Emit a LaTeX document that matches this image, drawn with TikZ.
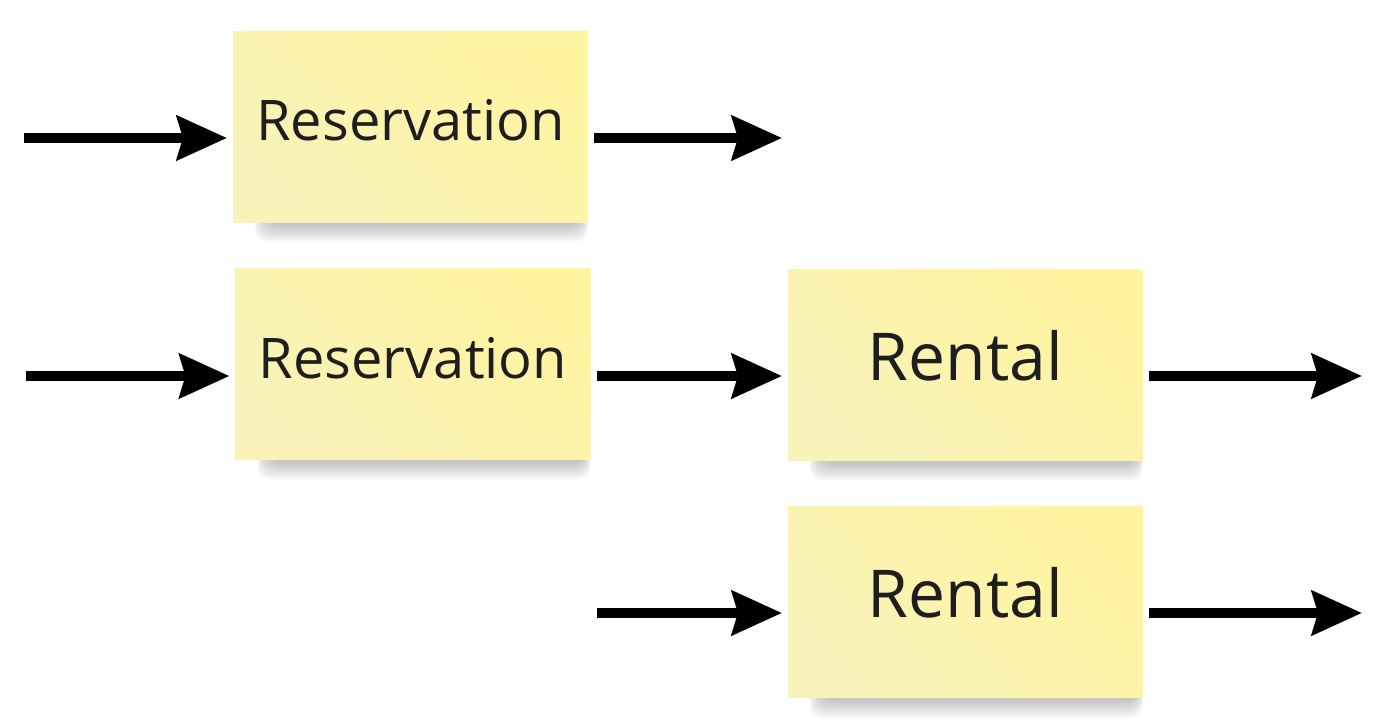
\documentclass[tikz,border=0pt]{standalone}
\usepackage{fontspec}
\setmainfont{Open Sans}
\usepackage{tikz}
\usetikzlibrary{arrows.meta,positioning,backgrounds}
\definecolor{noteTop}{RGB}{255,244,160}
\definecolor{noteBot}{RGB}{249,243,186}
\definecolor{ink}{RGB}{30,30,30}
\tikzset{
  note/.style={rectangle,minimum width=355pt,minimum height=191pt,inner sep=0pt,outer sep=6pt,
    top color=noteTop,bottom color=noteBot,shading angle=-40,text=ink},
  resv/.style={note,font=\fontsize{56}{60}\selectfont,text height=42pt,text depth=14pt},
  rent/.style={note,font=\fontsize{66}{70}\selectfont,text height=50pt,text depth=20pt},
  flow/.style={line width=10pt,-{Stealth[length=50pt,width=44pt,inset=6pt]}},
  shade/.style={fill=black,opacity=0.028,rounded corners=12pt}
}
\begin{document}
\begin{tikzpicture}[x=1pt,y=-1pt]
  \useasboundingbox (0,0) rectangle (1382,723);
  \node[resv] (N1) at (410.5,126.5) {Reservation};
  \node[resv] (N2) at (413,364) {Reservation};
  \node[rent] (N3) at (965.5,365) {Rental};
  \node[rent] (N4) at (965.5,602) {Rental};
  \begin{scope}[on background layer]
    \foreach \n in {N1,N2,N3,N4}
      \foreach \d/\l/\r in {-14/28/-6,-12/29/-7,-10/30/-8,-8/32/-8,-6/33/-9,-4/34/-10,-2/36/-10,0/38/-11,2/40/-12}
        \fill[shade] ([xshift=\l pt,yshift=30pt]\n.south west) rectangle ([xshift=\r pt,yshift=\d pt]\n.south east);
  \end{scope}
  \coordinate (S1) at (24,138);
  \coordinate (E1) at (782,138);
  \coordinate (S2) at (26,376);
  \coordinate (E2) at (1362,376);
  \coordinate (S3) at (597,613);
  \coordinate (E3) at (1362,613);
  \draw[flow] (S1) -- (S1 -| N1.west);
  \draw[flow] (S1 -| N1.east) -- (E1);
  \draw[flow] (S2) -- (S2 -| N2.west);
  \draw[flow] (S2 -| N2.east) -- (S2 -| N3.west);
  \draw[flow] (S2 -| N3.east) -- (E2);
  \draw[flow] (S3) -- (S3 -| N4.west);
  \draw[flow] (S3 -| N4.east) -- (E3);
\end{tikzpicture}
\end{document}
